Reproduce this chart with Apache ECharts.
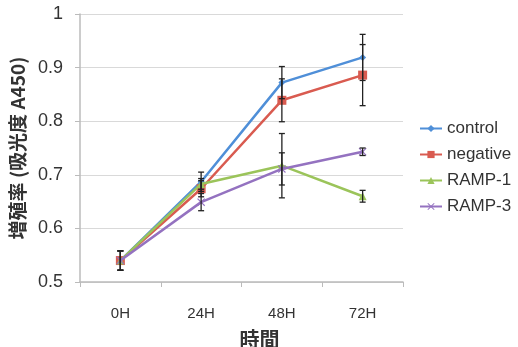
<!DOCTYPE html>
<html><head><meta charset="utf-8">
<script src="https://cdn.jsdelivr.net/npm/echarts@6/dist/echarts.min.js"></script>
<style>html,body{margin:0;padding:0;background:#fff}#c{width:518px;height:347px}</style>
</head><body><div id="c"></div>
<script>
const categories = ['0H', '24H', '48H', '72H'];
const seriesNames = ['control', 'negative', 'RAMP-1', 'RAMP-3'];
const control = [0.540, 0.687, 0.872, 0.919];
const negative = [0.540, 0.674, 0.839, 0.886];
const ramp1 = [0.540, 0.683, 0.717, 0.660];
const ramp3 = [0.540, 0.649, 0.711, 0.743];
const controlErr = [0.018, 0.018, 0.030, 0.043];
const negativeErr = [0.018, 0.015, 0.040, 0.057];
const ramp1Err = [0.018, 0.010, 0.060, 0.011];
const ramp3Err = [0.018, 0.016, 0.030, 0.007];
const yTicks = [0.5, 0.6, 0.7, 0.8, 0.9, 1];

const colors = ['#4F8FD8', '#D95B50', '#9BC45A', '#9472C0'];
const symbols = ['diamond', 'rect', 'triangle', 'path://M1,0L5,4L9,0L10,1L6,5L10,9L9,10L5,6L1,10L0,9L4,5L0,1Z'];
const symbolSizes = [7, 9, 8, 8];
const values = [control, negative, ramp1, ramp3];
const errs = [controlErr, negativeErr, ramp1Err, ramp3Err];

const chart = echarts.init(document.getElementById('c'), null, {renderer: 'canvas'});
const font = '"Liberation Sans", Arial, sans-serif';
const cjk = '"Noto Sans CJK JP", "Liberation Sans", sans-serif';

const series = [];
values.forEach((v, i) => {
  series.push({
    name: seriesNames[i], type: 'line', data: v,
    symbol: symbols[i], symbolSize: symbolSizes[i], showSymbol: true,
    lineStyle: {color: colors[i], width: 2.5},
    itemStyle: {color: colors[i]},
    z: 3 + i, animation: false
  });
});
errs.forEach((e, i) => {
  series.push({
    type: 'custom', name: seriesNames[i] + ' err', z: 10,
    data: values[i].map((v, k) => [k, v - e[k], v + e[k]]),
    renderItem: function (params, api) {
      const lo = api.coord([api.value(0), api.value(1)]);
      const hi = api.coord([api.value(0), api.value(2)]);
      const w = 3;
      const st = {stroke: '#222', lineWidth: 1.3};
      return {type: 'group', children: [
        {type: 'line', shape: {x1: lo[0], y1: lo[1], x2: hi[0], y2: hi[1]}, style: st},
        {type: 'line', shape: {x1: lo[0]-w, y1: lo[1], x2: lo[0]+w, y2: lo[1]}, style: st},
        {type: 'line', shape: {x1: hi[0]-w, y1: hi[1], x2: hi[0]+w, y2: hi[1]}, style: st}
      ]};
    },
    animation: false, silent: true
  });
});

chart.setOption({
  animation: false,
  color: colors,
  grid: {left: 80, right: 115, top: 14, bottom: 65, containLabel: false, outerBoundsMode: 'none'},
  legend: {
    data: seriesNames, orient: 'vertical', left: 419, top: 120, padding: 0,
    itemWidth: 22, itemHeight: 9, itemGap: 9,
    textStyle: {fontFamily: font, fontSize: 17, color: '#333'}
  },
  xAxis: {
    type: 'category', data: categories, boundaryGap: true,
    name: '時間', nameLocation: 'middle', nameGap: 47,
    nameTextStyle: {fontFamily: cjk, fontSize: 20, color: '#333', fontWeight: 'bold', padding: [0, 0, 0, 36]},
    axisLine: {lineStyle: {color: '#bbb', width: 1.5}},
    axisTick: {show: true, length: 5, lineStyle: {color: '#bbb'}},
    axisLabel: {fontFamily: font, fontSize: 15, color: '#333', margin: 24}
  },
  yAxis: {
    type: 'value', min: 0.5, max: 1, interval: 0.1,
    name: '増殖率 (吸光度 A450)', nameLocation: 'middle', nameGap: 48, nameRotate: 90,
    nameTextStyle: {fontFamily: cjk, fontSize: 19, color: '#333', fontWeight: 'bold'},
    axisLine: {show: true, lineStyle: {color: '#bbb', width: 1.5}},
    axisTick: {show: true, length: 5, lineStyle: {color: '#bbb'}},
    splitLine: {lineStyle: {color: '#d9d9d9', width: 1}},
    axisLabel: {fontFamily: font, fontSize: 18, color: '#333', margin: 17,
      formatter: v => { const t = yTicks.find(x => Math.abs(x - v) < 1e-6); return t === undefined ? '' : String(t); }}
  },
  series: series
});
</script></body></html>
